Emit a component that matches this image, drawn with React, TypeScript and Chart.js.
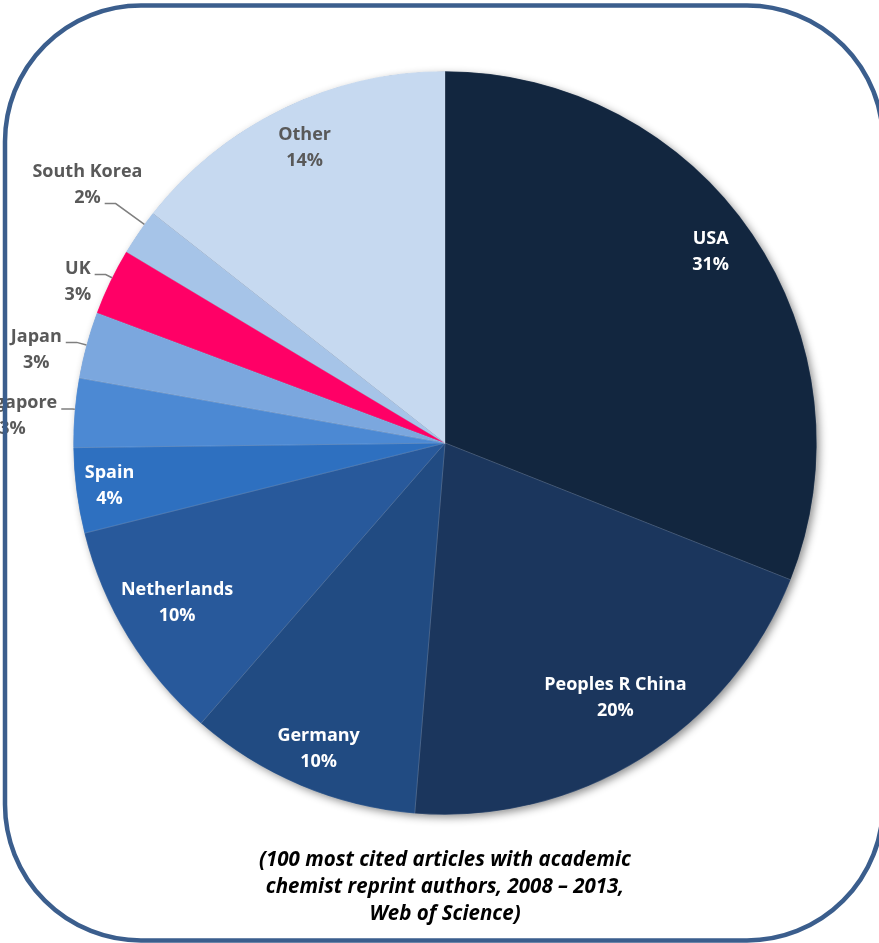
import { useEffect, useRef } from "react";
import { Chart, PieController, ArcElement, Title } from "chart.js";

Chart.register(PieController, ArcElement, Title);

// ---- data ----
const categories = [
  "USA",
  "Peoples R China",
  "Germany",
  "Netherlands",
  "Spain",
  "Singapore",
  "Japan",
  "UK",
  "South Korea",
  "Other",
];
const shares = [31.0, 20.3, 10.1, 9.7, 3.7, 3.0, 2.9, 2.9, 2.0, 14.4];
const sliceColors = [
  "#12263F",
  "#1B365D",
  "#214B82",
  "#28599B",
  "#2E70C0",
  "#4C89D3",
  "#7BA7DE",
  "#FF0066",
  "#A6C4E8",
  "#C6D9F0",
];
const captionLines = [
  "(100 most cited articles with academic",
  "chemist reprint authors, 2008 \u2013 2013,",
  "Web of Science)",
];

const FONT = "'Open Sans', 'DejaVu Sans', sans-serif";
const WHITE = "#FFFFFF";
const GREY = "#595959";

// label placement (radius factor, angle tweak in degrees, colour, leader row)
const labelLayout: { r: number; da: number; color: string; leader?: number }[] = [
  { r: 0.88, da: -1.5, color: WHITE },
  { r: 0.825, da: -1.9, color: WHITE },
  { r: 0.89, da: -0.4, color: WHITE },
  { r: 0.84, da: 0.6, color: WHITE },
  { r: 0.91, da: 0.1, color: WHITE },
  { r: 1.166, da: -1.1, color: GREY, leader: 0 },
  { r: 1.128, da: -2.4, color: GREY, leader: 0 },
  { r: 1.079, da: -2.0, color: GREY, leader: 0 },
  { r: 1.187, da: 1.3, color: GREY, leader: 1 },
  { r: 0.88, da: 0.5, color: GREY },
];

const decorPlugin = {
  id: "pieDecor",
  beforeDatasetsDraw(chart: any) {
    const arc = chart.getDatasetMeta(0).data[0];
    if (!arc) return;
    const { x, y, outerRadius } = arc.getProps(["x", "y", "outerRadius"], true);
    const ctx = chart.ctx;
    ctx.save();
    ctx.shadowColor = "rgba(0,0,0,0.45)";
    ctx.shadowBlur = 9;
    ctx.shadowOffsetX = 3;
    ctx.shadowOffsetY = 3;
    ctx.fillStyle = "#1d3a63";
    ctx.beginPath();
    ctx.arc(x, y, outerRadius - 0.5, 0, Math.PI * 2);
    ctx.fill();
    ctx.restore();
  },
  afterDatasetsDraw(chart: any) {
    const meta = chart.getDatasetMeta(0);
    const ctx = chart.ctx;
    ctx.save();
    ctx.font = `bold 18px ${FONT}`;
    ctx.textAlign = "center";
    ctx.textBaseline = "middle";
    meta.data.forEach((el: any, i: number) => {
      const p = el.getProps(["x", "y", "startAngle", "endAngle", "outerRadius"], true);
      const L = labelLayout[i];
      const mid = (p.startAngle + p.endAngle) / 2 + (L.da * Math.PI) / 180;
      const cx = p.x + Math.cos(mid) * p.outerRadius * L.r;
      const cy = p.y + Math.sin(mid) * p.outerRadius * L.r;
      const lines = [categories[i], `${Math.round(shares[i])}%`];
      ctx.fillStyle = L.color;
      ctx.fillText(lines[0], cx, cy - 13);
      ctx.fillText(lines[1], cx, cy + 13);
      if (L.leader !== undefined) {
        const row = L.leader;
        const w = ctx.measureText(lines[row]).width;
        const ly = cy + (row === 0 ? -13 : 13) + 6;
        const sx = cx + w / 2 + 4;
        const ex = sx + 11;
        const dx = ex - p.x;
        const dy = ly - p.y;
        const d = Math.hypot(dx, dy);
        const tx = p.x + (dx / d) * p.outerRadius;
        const ty = p.y + (dy / d) * p.outerRadius;
        ctx.strokeStyle = "#7F7F7F";
        ctx.lineWidth = 1.5;
        ctx.beginPath();
        ctx.moveTo(sx, ly);
        ctx.lineTo(ex, ly);
        ctx.lineTo(tx, ty);
        ctx.stroke();
      }
    });
    ctx.restore();
  },
  afterDraw(chart: any) {
    const ctx = chart.ctx;
    ctx.save();
    ctx.strokeStyle = "#3B5E8D";
    ctx.lineWidth = 4.5;
    ctx.beginPath();
    ctx.roundRect(5, 5.5, 878, 935, 136);
    ctx.stroke();
    ctx.restore();
  },
};

export default function App() {
  const canvasRef = useRef<HTMLCanvasElement | null>(null);

  useEffect(() => {
    if (!canvasRef.current) return;
    const chart = new Chart(canvasRef.current, {
      type: "pie",
      data: {
        labels: categories,
        datasets: [
          {
            data: shares,
            backgroundColor: sliceColors,
            borderColor: "rgba(255,255,255,0.22)",
            borderWidth: 0.6,
          },
        ],
      },
      options: {
        animation: false,
        responsive: true,
        maintainAspectRatio: false,
        events: [],
        layout: { padding: { left: 73, right: 62, top: 71, bottom: 15.5 } },
        plugins: {
          legend: { display: false },
          tooltip: { enabled: false },
          title: {
            display: true,
            position: "bottom",
            text: captionLines,
            color: "#000000",
            font: { family: FONT, size: 20.5, style: "italic", weight: "bold", lineHeight: 27 / 20.5 },
            padding: { top: 31.5, bottom: 0 },
          },
        },
      },
      plugins: [decorPlugin],
    });
    return () => chart.destroy();
  }, []);

  return (
    <div style={{ position: "fixed", left: 0, top: 0, width: 879, height: 943, background: "#fff" }}>
      <canvas ref={canvasRef} />
    </div>
  );
}
